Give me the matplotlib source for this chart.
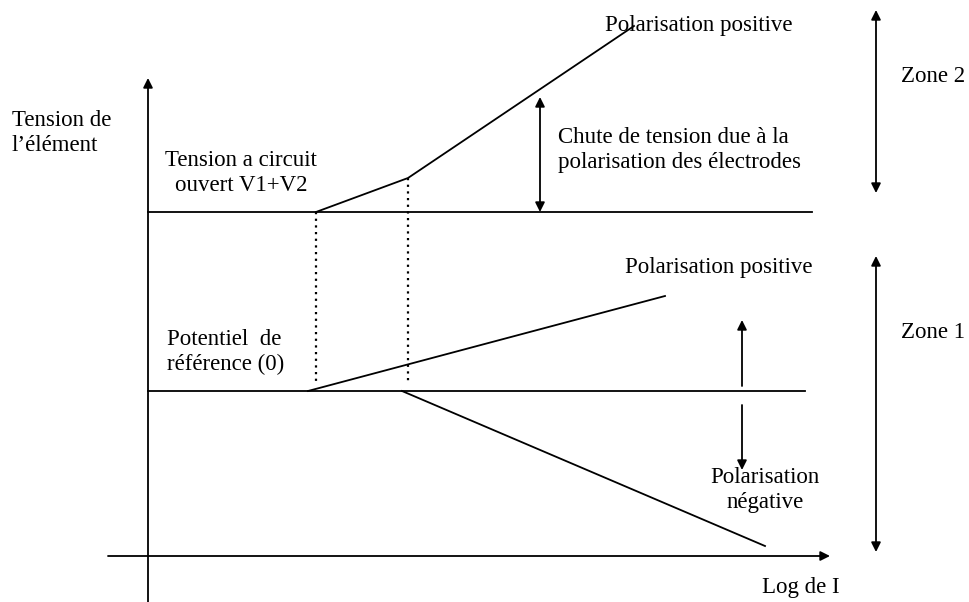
import matplotlib.pyplot as plt

plt.rcParams['font.family'] = ['Liberation Serif', 'DejaVu Serif']

# diagram geometry (pixel units, y downward)
axis_x = [108, 830]          # horizontal axis extent
axis_x_y = 556
axis_y = [602, 78]           # vertical axis extent
axis_y_x = 148

level_ocv = 212              # Tension a circuit ouvert V1+V2
level_ref = 391              # Potentiel de référence (0)
ocv_line_end = 812
ref_line_end = 805

dotted_x = [316, 408]
dotted_top = [212, 178]
dotted_bottom = 384

upper_pol_x = [316, 408, 634]
upper_pol_y = [212, 178, 26]
lower_pos_x = [308, 665]
lower_pos_y = [391, 296]
lower_neg_x = [402, 765]
lower_neg_y = [391, 546]

fig = plt.figure(figsize=(9.69, 6.02), dpi=100)
ax = fig.add_axes([0, 0, 1, 1])
ax.set_xlim(0, 969)
ax.set_ylim(602, 0)
ax.axis('off')

lw = 1.3
arr = dict(arrowstyle='-|>', color='black', lw=lw, mutation_scale=14, shrinkA=0, shrinkB=0)
darr = dict(arrowstyle='<|-|>', color='black', lw=lw, mutation_scale=14, shrinkA=0, shrinkB=0)

# axes
ax.annotate('', xy=(axis_x[1], axis_x_y), xytext=(axis_x[0], axis_x_y), arrowprops=arr)
ax.annotate('', xy=(axis_y_x, axis_y[1]), xytext=(axis_y_x, axis_y[0]), arrowprops=arr)

# horizontal levels
ax.plot([axis_y_x, ocv_line_end], [level_ocv, level_ocv], color='black', lw=lw)
ax.plot([axis_y_x, ref_line_end], [level_ref, level_ref], color='black', lw=lw)

# dotted verticals
for x, top in zip(dotted_x, dotted_top):
    ax.plot([x, x], [top, dotted_bottom], color='black', lw=1.6, linestyle=(0, (1, 2)))

# polarisation curves
ax.plot(upper_pol_x, upper_pol_y, color='black', lw=lw)
ax.plot(lower_pos_x, lower_pos_y, color='black', lw=lw)
ax.plot(lower_neg_x, lower_neg_y, color='black', lw=lw)

# annotation arrows
ax.annotate('', xy=(540, 97), xytext=(540, level_ocv), arrowprops=darr)
ax.annotate('', xy=(742, 320), xytext=(742, 386), arrowprops=arr)
ax.annotate('', xy=(742, 470), xytext=(742, 405), arrowprops=arr)
ax.annotate('', xy=(876, 10), xytext=(876, 193), arrowprops=darr)
ax.annotate('', xy=(876, 256), xytext=(876, 552), arrowprops=darr)

fs = 16.5
kw = dict(fontsize=fs, color='black', linespacing=1.25)
ax.text(605, 25, 'Polarisation positive', ha='left', va='center', **kw)
ax.text(901, 76, 'Zone 2', ha='left', va='center', **kw)
ax.text(12, 133, 'Tension de\nl\u2019élément', ha='left', va='center', **kw)
ax.text(241, 173, 'Tension a circuit\nouvert V1+V2', ha='center', va='center',
        multialignment='center', **kw)
ax.text(558, 150, 'Chute de tension due à la\npolarisation des électrodes', ha='left', va='center', **kw)
ax.text(625, 268, 'Polarisation positive', ha='left', va='center', **kw)
ax.text(901, 332, 'Zone 1', ha='left', va='center', **kw)
ax.text(167, 352, 'Potentiel  de\nréférence (0)', ha='left', va='center', **kw)
ax.text(765, 490, 'Polarisation\nnégative', ha='center', va='center',
        multialignment='center', **kw)
ax.text(762, 587, 'Log de I', ha='left', va='center', **kw)

fig.savefig('out.png', dpi=100)
